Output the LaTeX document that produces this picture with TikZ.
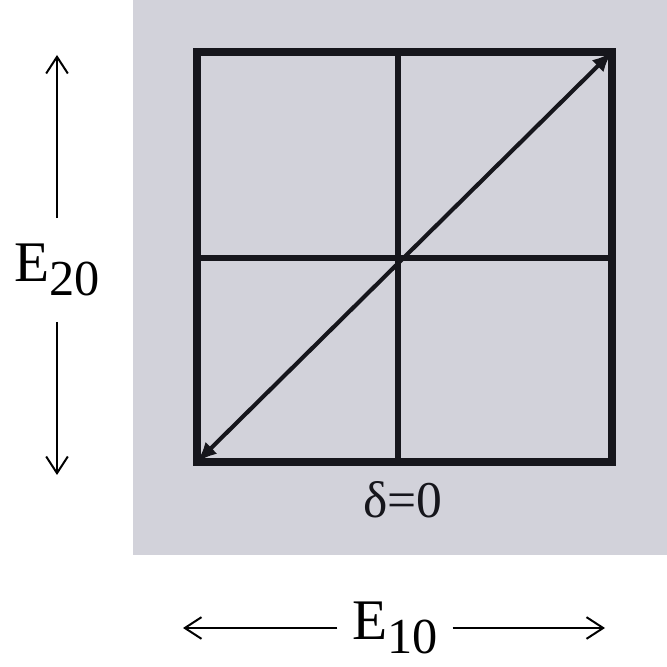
\documentclass[tikz,border=0pt]{standalone}
\usepackage{fontspec}
\setmainfont{Liberation Serif}
\usepackage{xcolor}
\usetikzlibrary{positioning,arrows.meta}
\definecolor{photo}{RGB}{210,210,218}
\definecolor{ink}{RGB}{22,22,28}
\newcommand{\fieldlbl}[2]{#1\raisebox{-0.5ex}{\fontsize{43}{43}\selectfont #2}}

\begin{document}
\begin{tikzpicture}[
  font=\fontsize{49}{55}\selectfont,
  ax/.style={line width=1.7pt, -{Straight Barb[length=5mm,width=6.5mm,line width=1.7pt]}},
  axlbl/.style={inner sep=0pt, minimum width=3.45cm, minimum height=3.1cm},
  frame/.style={draw=ink, line width=6pt},
  grd/.style={draw=ink, line width=4.5pt},
  diag/.style={draw=ink, line width=3.5pt, {Latex[length=6mm,width=5mm]}-{Latex[length=6mm,width=5mm]}}]
\useasboundingbox (0,0) rectangle (20.01,19.98);
% photographed part
\fill[photo] (3.99,3.33) rectangle (20.01,19.98);
\coordinate (sw) at (5.91,6.12);
\coordinate (ne) at (18.36,18.42);
\coordinate (s) at (11.94,6.12); \coordinate (n) at (11.94,18.42);
\coordinate (w) at (5.91,12.24); \coordinate (e) at (18.36,12.24);
\draw[grd] (s) -- (n);
\draw[grd] (w) -- (e);
\draw[frame] (sw) rectangle (ne);
\draw[diag] (sw) -- (ne);
\node[text=ink, font=\fontsize{44}{48}\selectfont] (delta) at (12.09,4.98) {δ=0};
% field amplitudes
\coordinate (e20top) at (1.71,18.33);
\coordinate (e20bot) at (1.71,5.73);
\node[axlbl] (e20) at (1.71,11.88) {\fieldlbl{E}{20}};
\draw[ax] (e20.north) -- (e20top);
\draw[ax] (e20.south) -- (e20bot);
\coordinate (e10l) at (5.49,1.14);
\coordinate (e10r) at (18.15,1.14);
\node[axlbl] (e10) at (11.85,1.14) {\fieldlbl{E}{10}};
\draw[ax] (e10.west) -- (e10l);
\draw[ax] (e10.east) -- (e10r);
\end{tikzpicture}
\end{document}
